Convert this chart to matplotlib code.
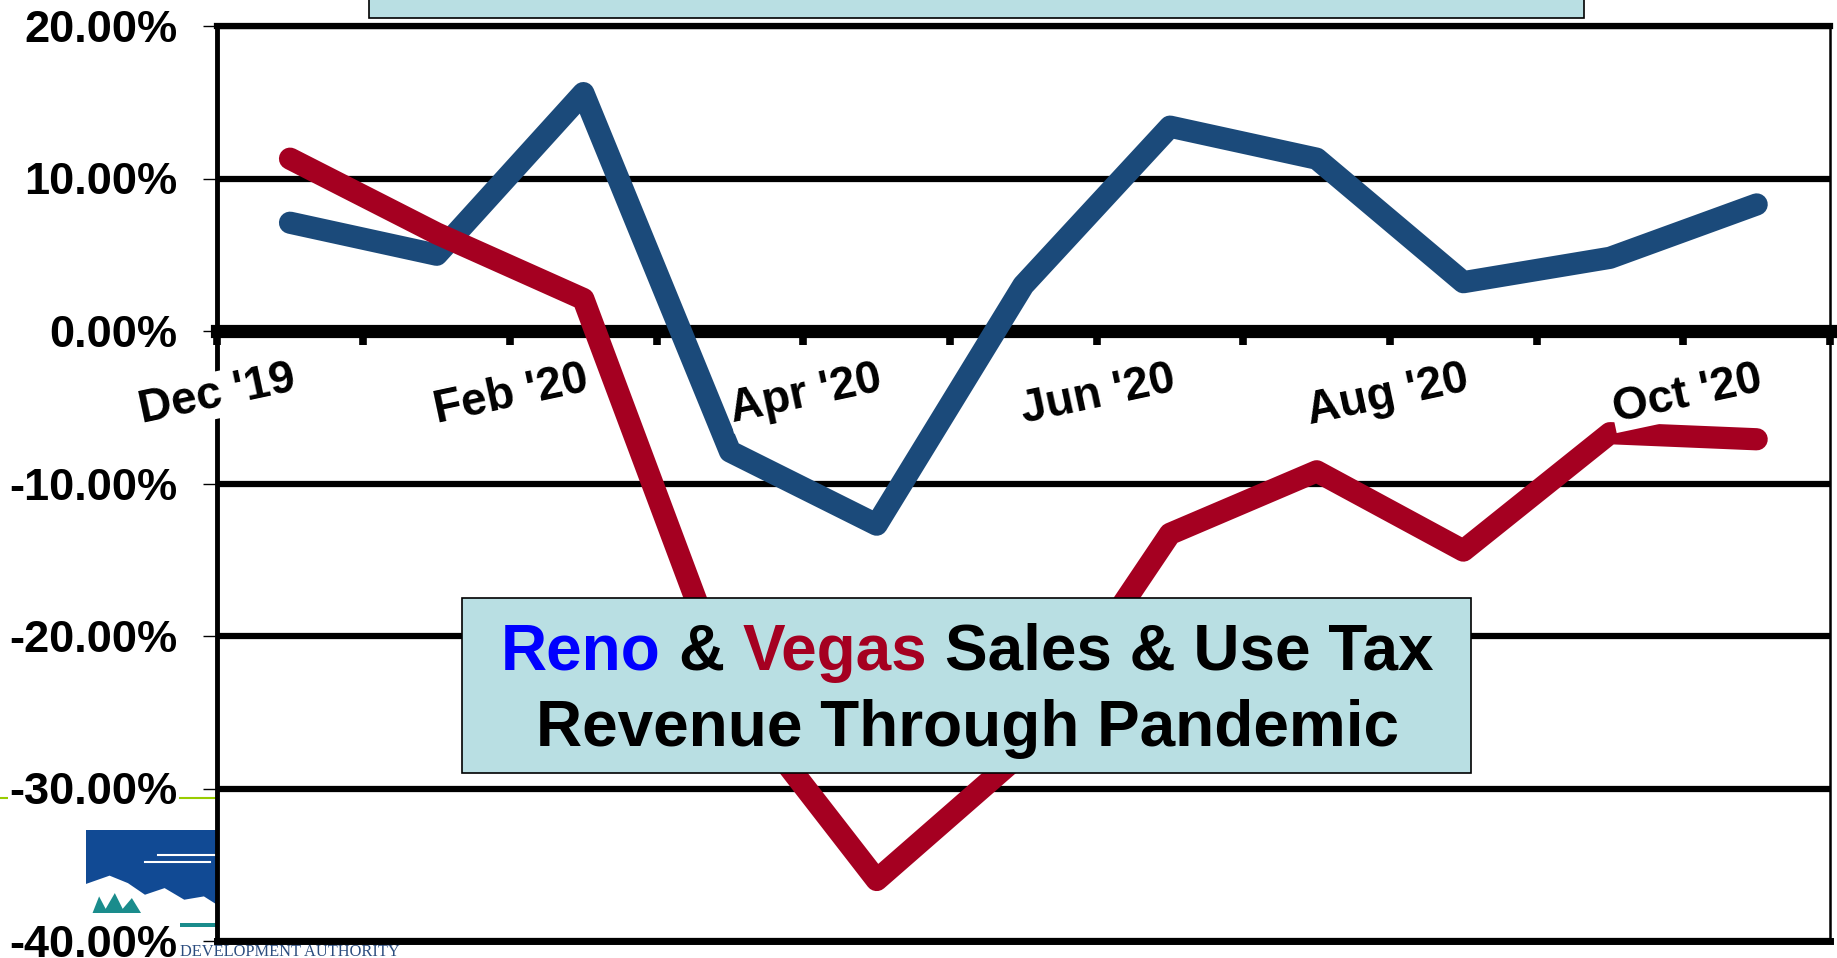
import matplotlib
matplotlib.use("Agg")
import matplotlib.pyplot as plt
from matplotlib.patches import Rectangle, Polygon
from matplotlib.lines import Line2D
from matplotlib.ticker import FixedLocator, FuncFormatter

plt.rcParams['font.family'] = ['Liberation Sans', 'DejaVu Sans']
plt.rcParams['font.weight'] = 'bold'

# monthly change in sales & use tax revenue (%)
months = ["Dec '19", "Jan '20", "Feb '20", "Mar '20", "Apr '20", "May '20",
          "Jun '20", "Jul '20", "Aug '20", "Sep '20", "Oct '20"]
reno = [7.1, 5.0, 15.6, -7.9, -12.7, 3.0, 13.4, 11.3, 3.2, 4.8, 8.3]
vegas = [11.3, 6.4, 2.1, -23.6, -36.0, -27.6, -13.3, -9.2, -14.4, -6.7, -7.1]
yticks = [-40, -30, -20, -10, 0, 10, 20]

reno_color = "#1B4A7A"
vegas_color = "#A50021"
box_color = "#B9DFE3"

W, H = 1837, 958
fig = plt.figure(figsize=(W / 100, H / 100), dpi=100)
ax = fig.add_axes([216.7 / W, 1 - 941 / H, (1830 - 216.7) / W, (941 - 26) / H])
ax.set_facecolor("white")

x = list(range(len(months)))
ax.plot(x, reno, color=reno_color, lw=16, solid_capstyle='round',
        solid_joinstyle='round', zorder=3)
ax.plot(x, vegas, color=vegas_color, lw=16, solid_capstyle='round',
        solid_joinstyle='round', zorder=3)

ax.set_xlim(-0.5, len(months) - 0.5)
ax.set_ylim(-40, 20)

# y axis
ax.yaxis.set_major_locator(FixedLocator(yticks))
ax.yaxis.set_major_formatter(FuncFormatter(lambda v, p: f"{v:.2f}%"))
ax.tick_params(axis='y', length=10, width=1, pad=18, labelsize=32.5)
for lab in ax.get_yticklabels():
    lab.set_fontweight('bold')
    lab.set_bbox(dict(facecolor='white', edgecolor='none', pad=1))
ax.yaxis.grid(True, color='black', lw=4.5)
ax.set_axisbelow(True)

# x axis sits at 0 with ticks at category boundaries
ax.spines['bottom'].set_position(('data', 0))
ax.spines['bottom'].set_linewidth(9.5)
ax.spines['left'].set_linewidth(3.5)
ax.spines['top'].set_linewidth(4.5)
ax.spines['right'].set_linewidth(1.8)
ax.set_xticks([i - 0.5 for i in range(len(months) + 1)])
ax.set_xticklabels([])
ax.tick_params(axis='x', length=10, width=5.5, direction='out')
ax.axhline(-40, color='black', lw=5, clip_on=False, zorder=2.6)

for i in range(0, len(months), 2):
    ax.text(i, -1.7, months[i], rotation=12, rotation_mode='anchor',
            ha='right', va='top', fontsize=33, fontweight='bold',
            bbox=dict(facecolor='white', edgecolor='none', pad=1),
            zorder=4, clip_on=False)

# title box in the middle of the plot
ax.add_patch(Rectangle((0.152, 0.184), 0.6255, 0.1909, transform=ax.transAxes,
                       facecolor=box_color, edgecolor='black', lw=1.2, zorder=6))

fig.canvas.draw()
r = fig.canvas.get_renderer()
title_size = 46


def width_px(s):
    t = fig.text(0, 0, s, fontsize=title_size, fontweight='bold')
    w = t.get_window_extent(r).width
    t.remove()
    return w


space = width_px("x x") - width_px("xx")
pieces = [("Reno", "#0000FF"), ("&", "black"), ("Vegas", vegas_color),
          ("Sales & Use Tax", "black")]
widths = [width_px(s) for s, c in pieces]
total = sum(widths) + space * (len(pieces) - 1)
cx = 967
xpos = cx - total / 2
for (s, c), w in zip(pieces, widths):
    fig.text(xpos / W, 1 - 670 / H, s, color=c, fontsize=title_size, fontweight='bold',
             ha='left', va='baseline', zorder=7)
    xpos += w + space
fig.text(cx / W, 1 - 746 / H, "Revenue Through Pandemic", color='black',
         fontsize=title_size, fontweight='bold', ha='center', va='baseline', zorder=7)

# cut-off box at the top of the slide
fig.add_artist(Rectangle((369 / W, 1 - 17.6 / H), (1584 - 369) / W, 0.05,
                         transform=fig.transFigure, facecolor=box_color,
                         edgecolor='black', lw=1.2, zorder=5))

# slide decoration: green rule and logo
fig.add_artist(Line2D([0, 216 / W], [1 - 797.7 / H] * 2, color='#99CC00',
                      lw=1.5, transform=fig.transFigure, zorder=-1))
logo = fig.add_axes([86 / W, 1 - 913 / H, (217 - 86) / W, (913 - 830) / H], zorder=-1)
logo.set_xlim(0, 1)
logo.set_ylim(0, 1)
logo.axis('off')
logo.add_patch(Rectangle((0, 0), 1, 1, facecolor='#114A94', edgecolor='none'))
logo.add_patch(Polygon([(0, 0), (0, 0.35), (0.18, 0.45), (0.32, 0.36), (0.45, 0.22),
                        (0.6, 0.3), (0.75, 0.16), (0.9, 0.2), (1, 0.1), (1, 0)],
                       facecolor='white', edgecolor='none'))
logo.add_patch(Polygon([(0.05, 0), (0.1, 0.2), (0.15, 0.05), (0.22, 0.24), (0.28, 0.05),
                        (0.35, 0.18), (0.42, 0)], facecolor='#1A8C8C', edgecolor='none'))
logo.plot([0.45, 0.95], [0.62, 0.62], color='white', lw=1.5)
logo.plot([0.55, 1.0], [0.7, 0.7], color='white', lw=1.5)
fig.add_artist(Rectangle((180 / W, 1 - 927 / H), 37 / W, 4 / H, transform=fig.transFigure,
                         facecolor='#1A8C8C', edgecolor='none', zorder=-1))
fig.text(180 / W, 1 - 956 / H, "DEVELOPMENT AUTHORITY", color='#2B4C7E',
         fontsize=11.8, family=['Liberation Serif', 'DejaVu Serif'], fontweight='normal',
         ha='left', va='baseline', zorder=-1)

fig.savefig("out.png", dpi=100)
